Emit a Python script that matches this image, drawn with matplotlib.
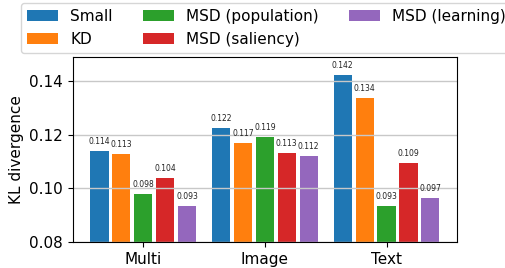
import numpy as np
from matplotlib import pyplot as plt

categories = ['Multi', 'Image', 'Text']
methods = ['Small', 'KD', 'MSD (population)', 'MSD (saliency)', 'MSD (learning)']
values = {
    'Small': [0.1141, 0.1225, 0.1424],
    'KD': [0.1128, 0.1169, 0.1338],
    'MSD (population)': [0.0979, 0.1192, 0.0934],
    'MSD (saliency)': [0.1039, 0.1132, 0.1094],
    'MSD (learning)': [0.0934, 0.1121, 0.0966],
}
colors = ['#1f77b4', '#ff7f0e', '#2ca02c', '#d62728', '#9467bd']

fig = plt.figure(figsize=(5.06, 2.68), dpi=100)
ax = fig.add_axes([0.144, 0.097, 0.759, 0.69])

x = np.arange(len(categories))
step = 0.18
width = 0.15
for i, m in enumerate(methods):
    pos = x + (i - 2) * step
    bars = ax.bar(pos, values[m], width=width, color=colors[i], label=m)
    for b, v in zip(bars, values[m]):
        ax.annotate('%.3f' % v, (b.get_x() + b.get_width() / 2, v),
                    xytext=(0, 3.5), textcoords='offset points',
                    ha='center', va='bottom', fontsize=5.5, color='#222222')

ax.set_ylim(0.08, 0.149)
ax.set_yticks([0.08, 0.10, 0.12, 0.14])
ax.yaxis.grid(True, color='#c8c8c8', linewidth=1.0)
ax.set_xticks(x)
ax.set_xticklabels(categories, fontsize=11)
ax.tick_params(axis='y', labelsize=11)
ax.set_ylabel('KL divergence', fontsize=11)

fig.legend(loc='upper left', bbox_to_anchor=(0.036, 1.0), ncol=3, fontsize=11,
           borderaxespad=0.2)

fig.savefig('out.png', dpi=100)
